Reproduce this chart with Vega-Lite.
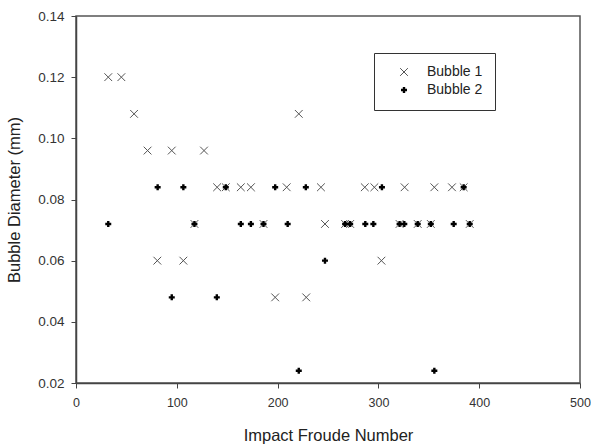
{
  "$schema": "https://vega.github.io/schema/vega-lite/v6.json",
  "width": 504,
  "height": 367,
  "autosize": {"type": "none"},
  "padding": {"left": 76, "top": 16, "right": 11, "bottom": 62},
  "background": "white",
  "config": {
    "font": "Liberation Sans",
    "view": {"stroke": "#555", "strokeWidth": 1.5},
    "axis": {"grid": false, "labelFlush": false, "domainColor": "#444", "domainWidth": 1.5, "tickColor": "#444", "tickSize": 5, "labelColor": "#333", "titleFontSize": 16.5, "titleFontWeight": "normal", "titleColor": "#222"},
    "legend": {"orient": "none", "legendX": 298, "legendY": 37, "strokeColor": "#333", "fillColor": "white", "padding": 12, "symbolOffset": 11, "labelOffset": 16, "labelFontSize": 14, "labelColor": "#222", "rowPadding": 3}
  },
  "data": {
    "values": [
      {"x": 32, "d": 0.12, "s": "Bubble 1"},
      {"x": 45, "d": 0.12, "s": "Bubble 1"},
      {"x": 57.6, "d": 0.108, "s": "Bubble 1"},
      {"x": 221, "d": 0.108, "s": "Bubble 1"},
      {"x": 71, "d": 0.096, "s": "Bubble 1"},
      {"x": 95, "d": 0.096, "s": "Bubble 1"},
      {"x": 127, "d": 0.096, "s": "Bubble 1"},
      {"x": 140, "d": 0.084, "s": "Bubble 1"},
      {"x": 148.6, "d": 0.084, "s": "Bubble 1"},
      {"x": 163.5, "d": 0.084, "s": "Bubble 1"},
      {"x": 173.5, "d": 0.084, "s": "Bubble 1"},
      {"x": 209, "d": 0.084, "s": "Bubble 1"},
      {"x": 243, "d": 0.084, "s": "Bubble 1"},
      {"x": 286.5, "d": 0.084, "s": "Bubble 1"},
      {"x": 296, "d": 0.084, "s": "Bubble 1"},
      {"x": 326, "d": 0.084, "s": "Bubble 1"},
      {"x": 355.5, "d": 0.084, "s": "Bubble 1"},
      {"x": 373, "d": 0.084, "s": "Bubble 1"},
      {"x": 384.6, "d": 0.084, "s": "Bubble 1"},
      {"x": 117.5, "d": 0.072, "s": "Bubble 1"},
      {"x": 186, "d": 0.072, "s": "Bubble 1"},
      {"x": 247, "d": 0.072, "s": "Bubble 1"},
      {"x": 267, "d": 0.072, "s": "Bubble 1"},
      {"x": 272, "d": 0.072, "s": "Bubble 1"},
      {"x": 321, "d": 0.072, "s": "Bubble 1"},
      {"x": 339, "d": 0.072, "s": "Bubble 1"},
      {"x": 352, "d": 0.072, "s": "Bubble 1"},
      {"x": 390.6, "d": 0.072, "s": "Bubble 1"},
      {"x": 80.7, "d": 0.06, "s": "Bubble 1"},
      {"x": 106.5, "d": 0.06, "s": "Bubble 1"},
      {"x": 303, "d": 0.06, "s": "Bubble 1"},
      {"x": 197.6, "d": 0.048, "s": "Bubble 1"},
      {"x": 228.4, "d": 0.048, "s": "Bubble 1"},
      {"x": 81, "d": 0.084, "s": "Bubble 2"},
      {"x": 106.5, "d": 0.084, "s": "Bubble 2"},
      {"x": 148.6, "d": 0.084, "s": "Bubble 2"},
      {"x": 197.6, "d": 0.084, "s": "Bubble 2"},
      {"x": 228, "d": 0.084, "s": "Bubble 2"},
      {"x": 303.5, "d": 0.084, "s": "Bubble 2"},
      {"x": 384.6, "d": 0.084, "s": "Bubble 2"},
      {"x": 32, "d": 0.072, "s": "Bubble 2"},
      {"x": 117.5, "d": 0.072, "s": "Bubble 2"},
      {"x": 163.5, "d": 0.072, "s": "Bubble 2"},
      {"x": 173.5, "d": 0.072, "s": "Bubble 2"},
      {"x": 186, "d": 0.072, "s": "Bubble 2"},
      {"x": 210, "d": 0.072, "s": "Bubble 2"},
      {"x": 267, "d": 0.072, "s": "Bubble 2"},
      {"x": 272, "d": 0.072, "s": "Bubble 2"},
      {"x": 287, "d": 0.072, "s": "Bubble 2"},
      {"x": 295, "d": 0.072, "s": "Bubble 2"},
      {"x": 321, "d": 0.072, "s": "Bubble 2"},
      {"x": 325.7, "d": 0.072, "s": "Bubble 2"},
      {"x": 339, "d": 0.072, "s": "Bubble 2"},
      {"x": 352, "d": 0.072, "s": "Bubble 2"},
      {"x": 374.7, "d": 0.072, "s": "Bubble 2"},
      {"x": 390.6, "d": 0.072, "s": "Bubble 2"},
      {"x": 247, "d": 0.06, "s": "Bubble 2"},
      {"x": 95, "d": 0.048, "s": "Bubble 2"},
      {"x": 139.7, "d": 0.048, "s": "Bubble 2"},
      {"x": 221, "d": 0.024, "s": "Bubble 2"},
      {"x": 355.5, "d": 0.024, "s": "Bubble 2"}
    ]
  },
  "mark": {"type": "point", "filled": false, "opacity": 1},
  "encoding": {
    "x": {"field": "x", "type": "quantitative", "scale": {"domain": [0, 500], "nice": false, "zero": false}, "axis": {"values": [0, 100, 200, 300, 400, 500], "title": "Impact Froude Number", "titlePadding": 19, "labelPadding": 8, "labelFontSize": 12.5}},
    "y": {"field": "d", "type": "quantitative", "scale": {"domain": [0.02, 0.14], "nice": false, "zero": false}, "axis": {"values": [0.02, 0.04, 0.06, 0.08, 0.1, 0.12, 0.14], "format": ".2f", "title": "Bubble Diameter (mm)", "titlePadding": 15, "labelPadding": 7, "labelFontSize": 13.5}},
    "shape": {"field": "s", "type": "nominal", "title": null, "scale": {"domain": ["Bubble 1", "Bubble 2"], "range": ["M-1,-1L1,1M1,-1L-1,1", "M-1,0L1,0M0,-1L0,1"]}},
    "stroke": {"field": "s", "type": "nominal", "title": null, "scale": {"domain": ["Bubble 1", "Bubble 2"], "range": ["#555555", "#000000"]}},
    "size": {"field": "s", "type": "nominal", "title": null, "scale": {"domain": ["Bubble 1", "Bubble 2"], "range": [60, 36]}},
    "strokeWidth": {"field": "s", "type": "nominal", "title": null, "scale": {"domain": ["Bubble 1", "Bubble 2"], "range": [1, 2.4]}}
  }
}
